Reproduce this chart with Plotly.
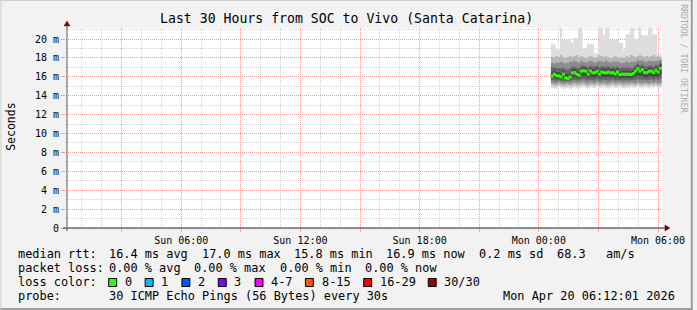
import plotly.graph_objects as go
import pandas as pd

# ---------------- data ----------------
median_rtt = [16.07, 16.28, 16.13, 16.10, 15.99, 16.28, 15.89, 15.82, 15.99, 16.42,
              16.45, 16.28, 16.17, 16.60, 16.66, 16.60, 16.28, 16.63, 16.42, 16.45,
              16.60, 16.28, 16.52, 16.45, 16.42, 16.52, 16.42, 16.45, 16.31, 16.52,
              16.24, 16.28, 16.28, 16.28, 16.28, 16.24, 16.35, 16.60, 16.87, 16.60,
              16.77, 16.45, 16.45, 16.60, 16.60, 16.45, 16.70, 16.52, 16.90]
ping_max = [19.5, 19.5, 18.9, 18.9, 21.5, 19.9, 19.9, 19.9, 19.9, 19.6,
            20.1, 20.1, 21.5, 21.5, 19.0, 19.0, 19.5, 19.5, 19.5, 18.5,
            18.5, 21.5, 21.5, 20.4, 21.5, 21.5, 19.9, 19.9, 19.9, 19.9,
            19.6, 19.6, 18.9, 20.5, 20.5, 21.5, 21.5, 19.9, 19.9, 21.5,
            20.4, 20.4, 20.4, 21.5, 21.5, 20.5, 20.5, 18.5, 18.5]
ping_min = [14.85, 14.80, 14.75, 14.90, 14.80, 14.70, 14.75, 14.85, 14.70, 14.80,
            14.90, 14.75, 14.80, 14.85, 14.95, 14.80, 14.75, 14.90, 14.85, 14.80,
            14.95, 14.80, 14.85, 14.90, 14.80, 14.75, 14.85, 14.95, 14.80, 14.85,
            14.90, 14.80, 14.75, 14.85, 14.80, 14.90, 14.85, 14.80, 14.95, 14.85,
            14.80, 14.90, 14.85, 14.80, 14.90, 14.85, 14.95, 14.80, 14.85]
smoke_b_lo = [15.10, 15.05, 15.00, 15.15, 15.05, 15.00, 15.00, 15.10, 15.00, 15.05,
              15.15, 15.00, 15.05, 15.10, 15.20, 15.05, 15.00, 15.15, 15.10, 15.05,
              15.20, 15.05, 15.10, 15.15, 15.05, 15.00, 15.10, 15.20, 15.05, 15.10,
              15.15, 15.05, 15.00, 15.10, 15.05, 15.15, 15.10, 15.05, 15.20, 15.10,
              15.05, 15.15, 15.10, 15.05, 15.15, 15.10, 15.20, 15.05, 15.10]
smoke_b_hi = [18.1, 18.0, 18.2, 18.1, 18.3, 18.1, 18.0, 18.1, 18.2, 18.1,
              18.2, 18.3, 18.1, 18.2, 18.1, 18.0, 18.1, 18.2, 18.1, 18.0,
              18.1, 18.3, 18.2, 18.1, 18.2, 18.1, 18.0, 18.1, 18.2, 18.1,
              18.0, 18.1, 18.0, 18.2, 18.1, 18.3, 18.2, 18.1, 18.2, 18.3,
              18.2, 18.1, 18.2, 18.1, 18.2, 18.3, 18.1, 18.2, 18.1]
smoke_c_lo = [15.35, 15.30, 15.30, 15.40, 15.30, 15.25, 15.30, 15.35, 15.25, 15.35,
              15.40, 15.30, 15.35, 15.40, 15.45, 15.30, 15.30, 15.40, 15.35, 15.30,
              15.45, 15.30, 15.35, 15.40, 15.30, 15.30, 15.35, 15.45, 15.30, 15.35,
              15.40, 15.30, 15.30, 15.35, 15.30, 15.40, 15.35, 15.30, 15.45, 15.35,
              15.30, 15.40, 15.35, 15.30, 15.40, 15.35, 15.45, 15.30, 15.35]
smoke_c_hi = [17.5, 17.4, 17.5, 17.5, 17.6, 17.5, 17.4, 17.5, 17.6, 17.6,
              17.7, 17.6, 17.5, 17.7, 17.6, 17.5, 17.6, 17.7, 17.6, 17.5,
              17.6, 17.7, 17.6, 17.6, 17.7, 17.6, 17.5, 17.6, 17.6, 17.6,
              17.5, 17.5, 17.5, 17.6, 17.5, 17.6, 17.6, 17.6, 17.8, 17.7,
              17.8, 17.6, 17.6, 17.7, 17.7, 17.6, 17.7, 17.7, 17.8]
smoke_d_lo = [15.65, 15.60, 15.55, 15.65, 15.55, 15.50, 15.50, 15.55, 15.55, 15.65,
              15.70, 15.60, 15.60, 15.70, 15.75, 15.65, 15.60, 15.70, 15.65, 15.65,
              15.75, 15.60, 15.65, 15.70, 15.65, 15.60, 15.65, 15.75, 15.60, 15.65,
              15.65, 15.60, 15.60, 15.65, 15.60, 15.65, 15.65, 15.70, 15.80, 15.70,
              15.70, 15.70, 15.65, 15.70, 15.75, 15.65, 15.80, 15.70, 15.80]
smoke_d_hi = [17.0, 17.0, 16.9, 16.9, 16.9, 17.0, 16.8, 16.8, 16.9, 17.1,
              17.1, 17.0, 16.9, 17.2, 17.2, 17.1, 17.0, 17.2, 17.1, 17.1,
              17.2, 17.0, 17.1, 17.1, 17.1, 17.1, 17.0, 17.1, 17.0, 17.1,
              16.9, 17.0, 17.0, 17.0, 17.0, 16.9, 17.0, 17.2, 17.4, 17.2,
              17.3, 17.1, 17.1, 17.2, 17.2, 17.1, 17.3, 17.2, 17.5]
smoke_e_lo = [15.85, 15.90, 15.80, 15.80, 15.75, 15.85, 15.70, 15.65, 15.75, 15.95,
              16.00, 15.90, 15.85, 16.05, 16.10, 16.05, 15.90, 16.05, 15.95, 15.95,
              16.05, 15.90, 16.00, 15.95, 15.95, 16.00, 15.95, 16.00, 15.85, 16.00,
              15.85, 15.90, 15.90, 15.90, 15.90, 15.85, 15.95, 16.05, 16.20, 16.05,
              16.15, 15.95, 15.95, 16.05, 16.05, 15.95, 16.10, 16.00, 16.25]
smoke_e_hi = [16.45, 16.65, 16.50, 16.45, 16.40, 16.65, 16.30, 16.25, 16.40, 16.80,
              16.85, 16.65, 16.55, 16.95, 17.00, 16.95, 16.65, 16.95, 16.80, 16.80,
              16.95, 16.65, 16.90, 16.80, 16.80, 16.90, 16.80, 16.85, 16.70, 16.90,
              16.60, 16.65, 16.65, 16.65, 16.65, 16.60, 16.75, 16.95, 17.20, 16.95,
              17.10, 16.80, 16.80, 16.95, 16.95, 16.80, 17.05, 16.90, 17.30]

first_sample = "2026-04-20 00:40:00"
sample_step_s = 409
graph_start = "2026-04-19 00:12:01"
graph_end = "2026-04-20 06:12:01"

y_tick_values = [0, 2, 4, 6, 8, 10, 12, 14, 16, 18, 20]
y_tick_labels = ["0", "2 m", "4 m", "6 m", "8 m", "10 m", "12 m", "14 m", "16 m", "18 m", "20 m"]
x_grid_times = ["2026-04-19 03:00", "2026-04-19 06:00", "2026-04-19 09:00", "2026-04-19 12:00",
                "2026-04-19 15:00", "2026-04-19 18:00", "2026-04-19 21:00", "2026-04-20 00:00",
                "2026-04-20 03:00", "2026-04-20 06:00"]
x_tick_labels = ["", "Sun 06:00", "", "Sun 12:00", "", "Sun 18:00", "", "Mon 00:00", "", "Mon 06:00"]

rtt_stats = [16.4, 17.0, 15.8, 16.9]      # avg, max, min, now (ms)
rtt_sd = 0.2
rtt_ams = 68.3
loss_stats = [0.00, 0.00, 0.00, 0.00]     # avg, max, min, now (%)
loss_labels = ["0", "1", "2", "3", "4-7", "8-15", "16-29", "30/30"]
loss_colors = ["#26ff00", "#00b8ff", "#0059ff", "#7e00ff", "#ff00ff", "#ff5500", "#ff0000", "#a10000"]
probe_text = "30 ICMP Echo Pings (56 Bytes) every 30s"
stamp_text = "Mon Apr 20 06:12:01 2026"
title_text = "Last 30 Hours from SOC to Vivo (Santa Catarina)"

# ---------------- layout geometry ----------------
W, H = 697, 310
L, R, T, B = 66, 31, 28, 82
PW, PH = W - L - R, H - T - B
MONO = "DejaVu Sans Mono"


def px(x):
    return (x - L) / PW


def py(y):
    return (H - B - y) / PH


times = pd.date_range(first_sample, periods=len(median_rtt), freq=f"{sample_step_s}s")
half = pd.Timedelta(seconds=sample_step_s / 2)
edges = list(times - half) + [times[-1] + half]


def pad(v):
    return list(v) + [v[-1]]


fig = go.Figure()
bands = [
    (ping_min, ping_max, "#dddddd"),
    (smoke_b_lo, smoke_b_hi, "#b6b6b6"),
    (smoke_c_lo, smoke_c_hi, "#8c8c8c"),
    (smoke_d_lo, smoke_d_hi, "#666666"),
    (smoke_e_lo, smoke_e_hi, "#484848"),
]
for lo, hi, col in bands:
    fig.add_trace(go.Scatter(x=edges, y=pad(lo), mode="lines",
                             line=dict(width=0, shape="hv"), hoverinfo="skip", showlegend=False))
    fig.add_trace(go.Scatter(x=edges, y=pad(hi), mode="lines", fill="tonexty", fillcolor=col,
                             line=dict(width=0, shape="hv"), hoverinfo="skip", showlegend=False))

fig.add_trace(go.Scatter(x=times, y=median_rtt, mode="markers",
                         marker=dict(symbol="square", size=3, color=loss_colors[0], line=dict(width=0)),
                         showlegend=False))

MGRID = "#f99b9b"
GRID = "#d1d1d1"
fig.update_xaxes(type="date", range=[graph_start, graph_end], tickmode="array",
                 tickvals=x_grid_times, ticktext=x_tick_labels,
                 showgrid=True, gridcolor=MGRID, griddash="1px,1px", gridwidth=1,
                 ticks="outside", ticklen=3, tickcolor=MGRID,
                 tickfont=dict(family=MONO, size=10, color="#000000"),
                 showline=False, zeroline=False, fixedrange=True,
                 minor=dict(dtick=3600000, tick0="2026-04-19 00:00", showgrid=True,
                            gridcolor=GRID, griddash="1px,1px", ticks=""))
fig.update_yaxes(range=[0, 21.17], tickmode="array", tickvals=y_tick_values, ticktext=y_tick_labels,
                 showgrid=True, gridcolor=MGRID, griddash="1px,1px", gridwidth=1,
                 ticks="outside", ticklen=4, tickcolor=MGRID,
                 tickfont=dict(family=MONO, size=10, color="#000000"),
                 showline=False, zeroline=False, fixedrange=True,
                 minor=dict(dtick=1, showgrid=True, gridcolor=GRID, griddash="1px,1px", ticks=""))

shapes = []
# image frame (rrdtool shading)
shapes.append(dict(type="line", xref="paper", yref="paper", x0=px(0), x1=px(W), y0=py(0.5), y1=py(0.5),
                   line=dict(color="#cfcfcf", width=1)))
shapes.append(dict(type="line", xref="paper", yref="paper", x0=px(0.5), x1=px(0.5), y0=py(0), y1=py(H),
                   line=dict(color="#cfcfcf", width=1)))
shapes.append(dict(type="line", xref="paper", yref="paper", x0=px(0), x1=px(W), y0=py(H - 1), y1=py(H - 1),
                   line=dict(color="#9e9e9e", width=2)))
shapes.append(dict(type="line", xref="paper", yref="paper", x0=px(W - 1), x1=px(W - 1), y0=py(0), y1=py(H),
                   line=dict(color="#9e9e9e", width=2)))
# axes
shapes.append(dict(type="line", xref="paper", yref="paper", x0=px(63), x1=px(670), y0=py(228), y1=py(228),
                   line=dict(color="#212121", width=1), layer="above"))
shapes.append(dict(type="line", xref="paper", yref="paper", x0=px(67), x1=px(67), y0=py(231), y1=py(24),
                   line=dict(color="#555555", width=1), layer="above"))
# arrows
shapes.append(dict(type="path", xref="paper", yref="paper",
                   path=f"M {px(669)} {py(225)} L {px(674)} {py(228)} L {px(669)} {py(231)} Z",
                   fillcolor="#800000", line=dict(color="#800000", width=0.5), layer="above"))
shapes.append(dict(type="path", xref="paper", yref="paper",
                   path=f"M {px(64)} {py(26)} L {px(67)} {py(21)} L {px(70)} {py(26)} Z",
                   fillcolor="#800000", line=dict(color="#800000", width=0.5), layer="above"))

# loss colour boxes
box_x = [109, 145.7, 182.7, 219.3, 256.3, 307, 365.7, 430.7]
for bx, col in zip(box_x, loss_colors):
    shapes.append(dict(type="rect", xref="paper", yref="paper", x0=px(bx), x1=px(bx + 8),
                       y0=py(286.5), y1=py(278.5), fillcolor=col, line=dict(color="#000000", width=1)))

ann = []


def text(x, y, s, size=11.9, anchor="left", color="#000000", angle=0, yanchor="middle"):
    ann.append(dict(x=px(x), y=py(y), xref="paper", yref="paper", text=s, showarrow=False,
                    xanchor=anchor, yanchor=yanchor, textangle=angle,
                    font=dict(family=MONO, size=size, color=color)))


text(348, 18.5, title_text, size=13.2, anchor="center")
text(10.5, 127, "Seconds", size=11.5, anchor="center", angle=-90)
text(688, 59, "RRDTOOL / TOBI OETIKER", size=8.2, anchor="center", color="#ababab", angle=90)

r1 = 254.3
text(16, r1, "median rtt:")
labels1 = [f"{rtt_stats[0]:.1f} ms avg", f"{rtt_stats[1]:.1f} ms max", f"{rtt_stats[2]:.1f} ms min",
           f"{rtt_stats[3]:.1f} ms now", f"{rtt_sd:.1f} ms sd", f"{rtt_ams:.1f}", "am/s"]
for x, s in zip([107.3, 200.7, 293.3, 386, 479.3, 558.3, 607.7], labels1):
    text(x, r1, s)

r2 = 268.3
text(16, r2, "packet loss:")
labels2 = [f"{loss_stats[0]:.2f} % avg", f"{loss_stats[1]:.2f} % max", f"{loss_stats[2]:.2f} % min",
           f"{loss_stats[3]:.2f} % now"]
for x, s in zip([107.3, 193.3, 279.3, 365], labels2):
    text(x, r2, s)

r3 = 282.3
text(16, r3, "loss color:")
for bx, lab in zip(box_x, loss_labels):
    text(bx + 14.3, r3, lab)

r4 = 296.3
text(16, r4, "probe:")
text(107.3, r4, probe_text)
text(681, r4, stamp_text, anchor="right")

fig.update_layout(width=W, height=H, autosize=False,
                  margin=dict(l=L, r=R, t=T, b=B, pad=0),
                  paper_bgcolor="#f2f2f2", plot_bgcolor="#ffffff",
                  shapes=shapes, annotations=ann, showlegend=False)

fig.write_html("out.html", config={"displayModeBar": False})
